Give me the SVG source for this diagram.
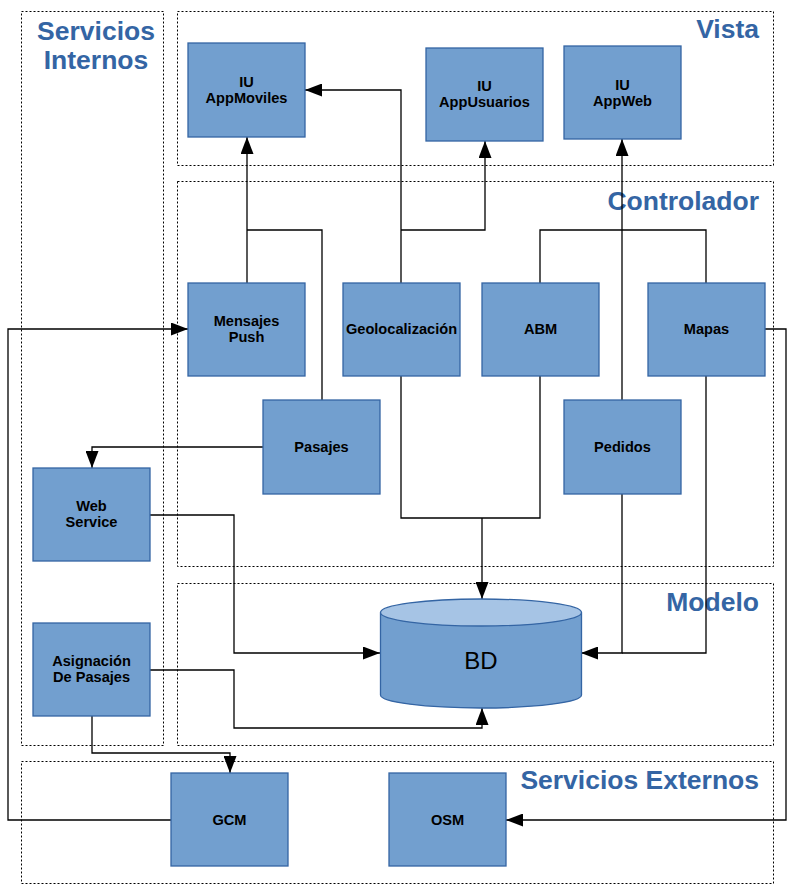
<svg xmlns="http://www.w3.org/2000/svg" width="794" height="895" viewBox="0 0 794 895">
<style>
.cont{fill:none;stroke:#000;stroke-width:1;stroke-dasharray:2,2}
.title{font-family:"Liberation Sans",Arial,sans-serif;font-weight:bold;font-size:26.5px;fill:#3465a4}
.box{fill:#729fcf;stroke:#3465a4;stroke-width:1.3}
.lbl{font-family:"Liberation Sans",Arial,sans-serif;font-weight:bold;font-size:14.6px;fill:#000;text-anchor:middle}
.ln{fill:none;stroke:#000;stroke-width:1.3}
.arr{fill:none;stroke:#000;stroke-width:1.3;marker-end:url(#ah)}
</style>
<defs>
<marker id="ah" viewBox="0 0 17 13" refX="17" refY="6.5" markerWidth="17" markerHeight="13" markerUnits="userSpaceOnUse" orient="auto">
<path d="M0,0 L17,6.5 L0,13 Z" fill="#000"/>
</marker>
</defs>
<rect width="794" height="895" fill="#fff"/>
<g id="containers">
<rect class="cont" x="21.5" y="11.5" width="142" height="734"/>
<rect class="cont" x="177.5" y="11.5" width="596" height="154"/>
<rect class="cont" x="177.5" y="181.5" width="596" height="385"/>
<rect class="cont" x="177.5" y="583.5" width="596" height="162"/>
<rect class="cont" x="21.5" y="761.5" width="752" height="122"/>
<text class="title" x="96" y="40" text-anchor="middle">Servicios</text>
<text class="title" x="96" y="69" text-anchor="middle">Internos</text>
<text class="title" x="759" y="38" text-anchor="end">Vista</text>
<text class="title" x="759" y="210" text-anchor="end">Controlador</text>
<text class="title" x="759" y="611" text-anchor="end">Modelo</text>
<text class="title" x="759" y="789" text-anchor="end">Servicios Externos</text>
</g>
<g id="connectors">
<path class="arr" d="M247,283 V137"/>
<path class="ln" d="M322,400 V230 H247"/>
<path class="arr" d="M401,283 V90 H305"/>
<path class="arr" d="M401,230 H485 V141"/>
<path class="ln" d="M401,376 V518 H540 V376"/>
<path class="arr" d="M482,518 V599"/>
<path class="ln" d="M540,283 V230 H706 V283"/>
<path class="arr" d="M622,400 V139"/>
<path class="arr" d="M622,494 V653 H581"/>
<path class="ln" d="M706,376 V653 H622"/>
<path class="arr" d="M765,329 H786 V820 H506"/>
<path class="arr" d="M171,820 H8 V329 H188"/>
<path class="arr" d="M263,447 H92 V468"/>
<path class="arr" d="M150,515 H234 V653 H380"/>
<path class="arr" d="M150,670 H234 V728 H482 V708"/>
<path class="arr" d="M92,716 V753 H230 V773"/>
</g>
<g id="n-appmoviles"><rect class="box" x="188" y="43" width="117" height="94"/><text class="lbl" x="246.5" y="87">IU</text><text class="lbl" x="246.5" y="103">AppMoviles</text></g>
<g id="n-appusuarios"><rect class="box" x="426" y="48" width="117" height="93"/><text class="lbl" x="484.5" y="91">IU</text><text class="lbl" x="484.5" y="107">AppUsuarios</text></g>
<g id="n-appweb"><rect class="box" x="564" y="46" width="117" height="93"/><text class="lbl" x="622.5" y="90">IU</text><text class="lbl" x="622.5" y="106">AppWeb</text></g>
<g id="n-push"><rect class="box" x="188" y="283" width="117" height="93"/><text class="lbl" x="246.5" y="326">Mensajes</text><text class="lbl" x="246.5" y="342">Push</text></g>
<g id="n-geo"><rect class="box" x="343" y="283" width="117" height="93"/><text class="lbl" x="401.5" y="334">Geolocalización</text></g>
<g id="n-abm"><rect class="box" x="482" y="283" width="117" height="93"/><text class="lbl" x="540.5" y="334">ABM</text></g>
<g id="n-mapas"><rect class="box" x="648" y="283" width="117" height="93"/><text class="lbl" x="706.5" y="334">Mapas</text></g>
<g id="n-pasajes"><rect class="box" x="263" y="400" width="117" height="94"/><text class="lbl" x="321.5" y="452">Pasajes</text></g>
<g id="n-pedidos"><rect class="box" x="564" y="400" width="117" height="94"/><text class="lbl" x="622.5" y="452">Pedidos</text></g>
<g id="n-webservice"><rect class="box" x="33" y="468" width="117" height="93"/><text class="lbl" x="91.5" y="511">Web</text><text class="lbl" x="91.5" y="527">Service</text></g>
<g id="n-asignacion"><rect class="box" x="33" y="623" width="117" height="93"/><text class="lbl" x="91.5" y="666">Asignación</text><text class="lbl" x="91.5" y="682">De Pasajes</text></g>
<g id="n-gcm"><rect class="box" x="171" y="773" width="117" height="93"/><text class="lbl" x="229.5" y="825">GCM</text></g>
<g id="n-osm"><rect class="box" x="389" y="773" width="117" height="93"/><text class="lbl" x="447.5" y="825">OSM</text></g>
<g id="n-bd">
<path d="M380.5,612.5 V695 A100.5,13 0 0 0 581.5,695 V612.5" fill="#729fcf" stroke="#3465a4" stroke-width="1.3"/>
<ellipse cx="481" cy="612.5" rx="100.5" ry="13.5" fill="#a6c4e5" stroke="#3465a4" stroke-width="1.3"/>
<text x="481" y="669" text-anchor="middle" font-family="Liberation Sans,Arial,sans-serif" font-size="24" fill="#000">BD</text>
</g>
</svg>
